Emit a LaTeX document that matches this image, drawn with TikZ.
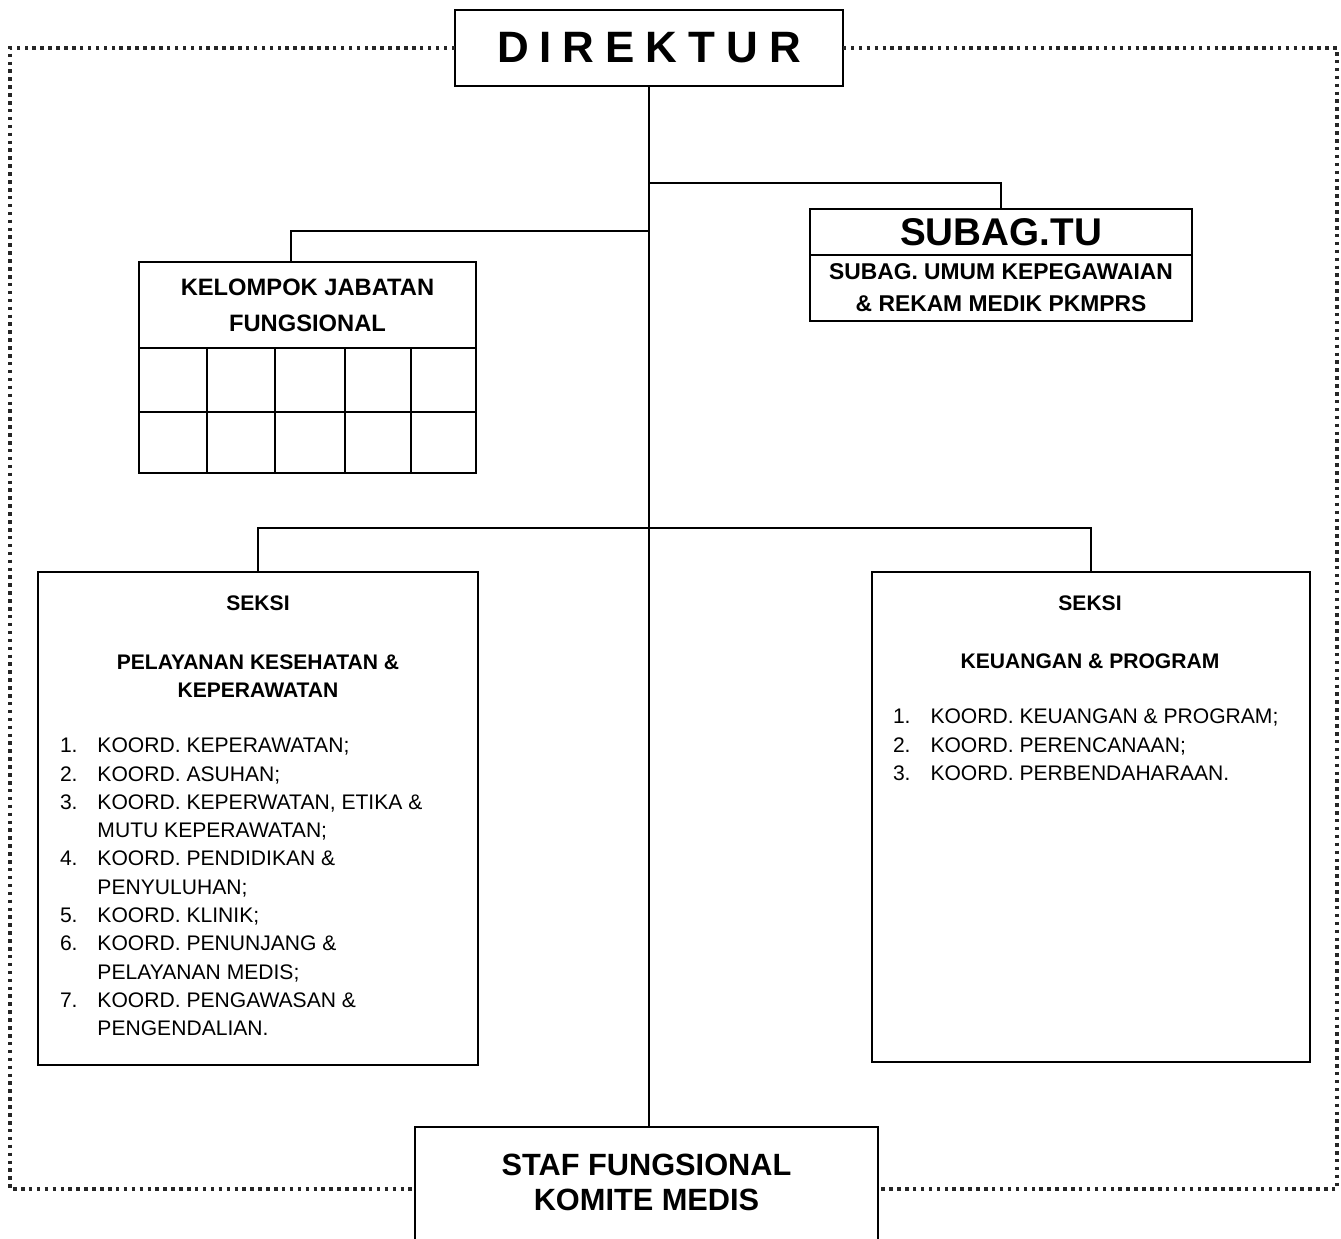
\documentclass[tikz,border=0pt]{standalone}
\usepackage{fontspec}
\setmainfont{Liberation Sans}
\usetikzlibrary{positioning}

\newcommand{\nr}[1]{\makebox[0.75cm][l]{#1}}
\newcommand{\lanjut}{\hspace*{0.75cm}}

\begin{document}
\begin{tikzpicture}[
  x=0.02cm, y=-0.02cm,
  every node/.style={inner sep=0pt, outer sep=0pt},
  box/.style={rectangle, draw, line width=1.5pt},
  link/.style={line width=1.5pt},
  frame/.style={line width=2.1pt, dash pattern=on 2pt off 2.5pt, black!85},
  head/.style={font=\bfseries\fontsize{12}{15.9}\selectfont, align=center},
  items/.style={align=left, font=\fontsize{12}{16.1}\selectfont}
]
\useasboundingbox (0,0) rectangle (1341,1238);

\node[box, minimum width=7.76cm, minimum height=1.52cm,
  font=\bfseries\fontsize{25}{30}\selectfont\addfontfeature{LetterSpace=25}] (dir) at (649,48) {DIREKTUR};

\node[box, minimum width=7.64cm, minimum height=0.92cm,
  font=\bfseries\fontsize{22}{26}\selectfont] (tu) at (1001,232) {SUBAG.TU};
\node[box, below=0pt of tu, minimum width=7.64cm, minimum height=1.32cm, align=center,
  font=\bfseries\fontsize{13}{18.1}\selectfont] (tuisi) {SUBAG. UMUM KEPEGAWAIAN\\\& REKAM MEDIK PKMPRS};

\node[box, minimum width=6.74cm, minimum height=1.72cm, align=center,
  font=\bfseries\fontsize{13.5}{20.4}\selectfont] (kjf) at (307.5,305) {KELOMPOK JABATAN\\FUNGSIONAL};
\node[box, below=0pt of kjf, minimum width=6.74cm, minimum height=2.5cm] (tabel) {};
\draw[link] ([yshift=-0.03cm]tabel.west) -- ([yshift=-0.03cm]tabel.east);
\foreach \x in {207,275,345,411}
  \draw[link] (\x,348) -- (\x,473);

\node[box, minimum width=8.8cm, minimum height=9.86cm] (yankes) at (258,818.5) {};
\node[head] (yankesA) at (258,603) {SEKSI};
\node[head] (yankesB) at (258,676) {PELAYANAN KESEHATAN \&\\KEPERAWATAN};
\node[items, anchor=north west] (yankesC) at (60,738) {%
  \nr{1.}KOORD. KEPERAWATAN;\\
  \nr{2.}KOORD. ASUHAN;\\
  \nr{3.}KOORD. KEPERWATAN, ETIKA \&\\
  \lanjut MUTU KEPERAWATAN;\\
  \nr{4.}KOORD. PENDIDIKAN \&\\
  \lanjut PENYULUHAN;\\
  \nr{5.}KOORD. KLINIK;\\
  \nr{6.}KOORD. PENUNJANG \&\\
  \lanjut PELAYANAN MEDIS;\\
  \nr{7.}KOORD. PENGAWASAN \&\\
  \lanjut PENGENDALIAN.};

\node[box, minimum width=8.76cm, minimum height=9.8cm] (keu) at (1091,817) {};
\node[head] (keuA) at (1090,603) {SEKSI};
\node[head] (keuB) at (1090,661) {KEUANGAN \& PROGRAM};
\node[items, anchor=north west] (keuC) at (893,709) {%
  \nr{1.}KOORD. KEUANGAN \& PROGRAM;\\
  \nr{2.}KOORD. PERENCANAAN;\\
  \nr{3.}KOORD. PERBENDAHARAAN.};

\node[box, minimum width=9.26cm, minimum height=2.4cm] (staf) at (646.5,1187) {};
\node[align=center, font=\bfseries\fontsize{17.5}{19.8}\selectfont] (stafteks) at (646.5,1182) {STAF FUNGSIONAL\\KOMITE MEDIS};

% garis komando
\coordinate (cab1) at (649,183);
\coordinate (cab2) at (649,231);
\coordinate (cab3) at (649,528);
\draw[link] (dir.south) -- (dir.south |- staf.north);
\draw[link] (cab1) -| (tu.north);
\draw[link] (cab2) -| ([xshift=-0.33cm]kjf.north);
\draw[link] (yankes.north) |- (cab3) -| (keu.north);

% garis koordinasi
\coordinate (ka) at (10,48);
\coordinate (kb) at (10,1189);
\coordinate (na) at (1337,48);
\coordinate (nb) at (1337,1189);
\draw[frame] (dir.west) -- (ka) -- (kb) -- (kb -| staf.west);
\draw[frame] (dir.east) -- (na) -- (nb) -- (nb -| staf.east);
\end{tikzpicture}
\end{document}
